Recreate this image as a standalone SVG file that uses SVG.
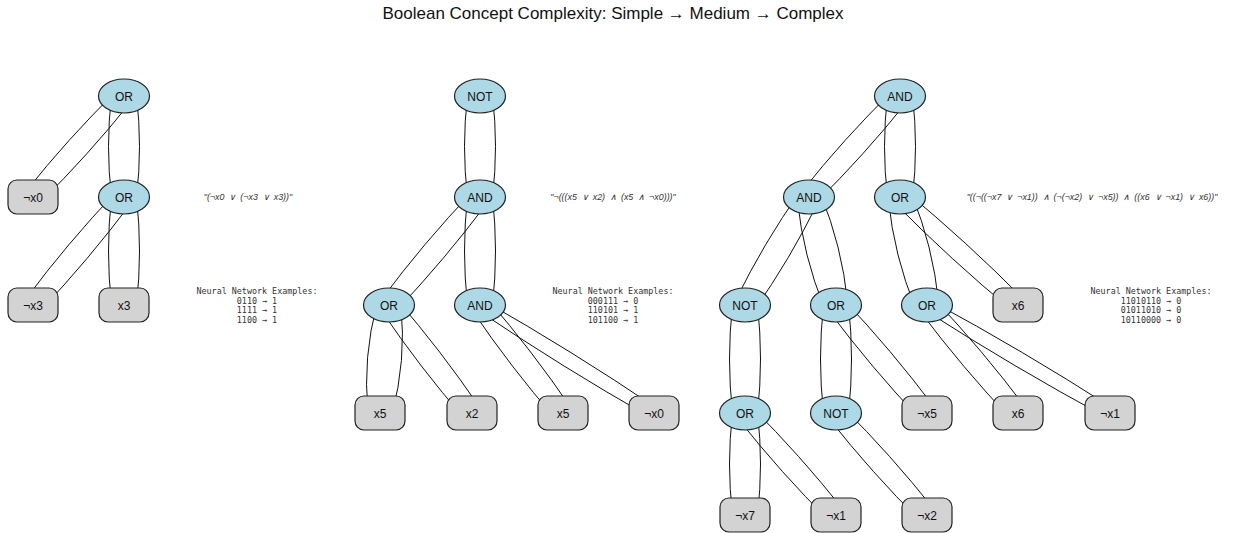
<svg xmlns="http://www.w3.org/2000/svg" width="1238" height="533" viewBox="0 0 1238 533">
<style>
.e{fill:none;stroke:#111;stroke-width:1}
.op ellipse{fill:#add8e6;stroke:#222;stroke-width:1.2}
.lf rect{fill:#d3d3d3;stroke:#222;stroke-width:1.2}
.lb{font-family:"Liberation Sans",Arial,sans-serif;font-size:12px;fill:#111;text-anchor:middle}
.fm{font-family:"Liberation Sans",Arial,sans-serif;font-size:8.9px;font-style:italic;fill:#333;text-anchor:middle;white-space:pre}
.nn{font-family:"DejaVu Sans Mono","Liberation Mono",monospace;font-size:8.4px;fill:#333;text-anchor:middle}
.tt{font-family:"Liberation Sans",Arial,sans-serif;font-size:17px;fill:#111;text-anchor:middle}
</style>
<rect width="1238" height="533" fill="#fff"/>
<text class="tt" x="613" y="19">Boolean Concept Complexity: Simple → Medium → Complex</text>
<g id="connectors">
<path class="e" d="M130.7,102 Q88.2,155.2 39.7,203"/>
<path class="e" d="M117.3,90 Q66.8,139.8 26.3,191"/>
<path class="e" d="M136.5,96 Q142.5,146.5 136.5,197"/>
<path class="e" d="M111.5,96 Q105.5,146.5 111.5,197"/>
<path class="e" d="M131.1,203 Q88.7,259.6 40.1,311"/>
<path class="e" d="M116.9,191 Q66.3,244.4 25.9,299"/>
<path class="e" d="M136.5,197 Q142.5,251 136.5,305"/>
<path class="e" d="M111.5,197 Q105.5,251 111.5,305"/>
<path class="e" d="M492.5,96 Q498.5,146.5 492.5,197"/>
<path class="e" d="M467.5,96 Q461.5,146.5 467.5,197"/>
<path class="e" d="M487.1,203 Q444.7,259.6 396.1,311"/>
<path class="e" d="M472.9,191 Q422.3,244.4 381.9,299"/>
<path class="e" d="M492.5,197 Q498.5,251 492.5,305"/>
<path class="e" d="M467.5,197 Q461.5,251 467.5,305"/>
<path class="e" d="M401,306 Q406.4,360.8 392,414"/>
<path class="e" d="M377,304 Q362.6,357.2 368,412"/>
<path class="e" d="M396.5,299.2 Q441.2,350.8 479.5,407.2"/>
<path class="e" d="M381.5,310.8 Q419.8,367.2 464.5,418.8"/>
<path class="e" d="M487.5,299.2 Q532.2,350.8 570.5,407.2"/>
<path class="e" d="M472.5,310.8 Q510.8,367.2 555.5,418.8"/>
<path class="e" d="M482.9,300.3 Q572,350.9 656.9,408.3"/>
<path class="e" d="M477.1,309.7 Q562,367.1 651.1,417.7"/>
<path class="e" d="M906.7,102 Q864.2,155.2 815.7,203"/>
<path class="e" d="M893.3,90 Q842.8,139.8 802.3,191"/>
<path class="e" d="M912.5,96 Q918.5,146.5 912.5,197"/>
<path class="e" d="M887.5,96 Q881.5,146.5 887.5,197"/>
<path class="e" d="M818,202.4 Q790.3,258.9 754,310.4"/>
<path class="e" d="M800,191.6 Q763.7,243.1 736,299.6"/>
<path class="e" d="M820.6,194.1 Q841.9,246.1 847.6,302.1"/>
<path class="e" d="M797.4,199.9 Q803.1,255.9 824.4,307.9"/>
<path class="e" d="M911.6,194.1 Q932.9,246.1 938.6,302.1"/>
<path class="e" d="M888.4,199.9 Q894.1,255.9 915.4,307.9"/>
<path class="e" d="M905.4,191.1 Q967.1,242.2 1023.4,299.1"/>
<path class="e" d="M894.6,202.9 Q950.9,259.9 1012.6,310.9"/>
<path class="e" d="M757.5,305 Q763.5,359 757.5,413"/>
<path class="e" d="M732.5,305 Q726.5,359 732.5,413"/>
<path class="e" d="M848.5,305 Q854.5,359 848.5,413"/>
<path class="e" d="M823.5,305 Q817.5,359 823.5,413"/>
<path class="e" d="M843.1,299 Q891.7,350.4 934.1,407"/>
<path class="e" d="M828.9,311 Q871.3,367.6 919.9,419"/>
<path class="e" d="M934.1,299 Q982.7,350.4 1025.1,407"/>
<path class="e" d="M919.9,311 Q962.3,367.6 1010.9,419"/>
<path class="e" d="M929.8,300.3 Q1023.3,350.8 1112.8,408.3"/>
<path class="e" d="M924.2,309.7 Q1013.7,367.2 1107.2,417.7"/>
<path class="e" d="M757.5,413 Q763.5,464 757.5,515"/>
<path class="e" d="M732.5,413 Q726.5,464 732.5,515"/>
<path class="e" d="M751.7,407 Q800.2,455.3 842.7,509"/>
<path class="e" d="M738.3,419 Q780.8,472.7 829.3,521"/>
<path class="e" d="M842.7,407 Q891.2,455.3 933.7,509"/>
<path class="e" d="M829.3,419 Q871.8,472.7 920.3,521"/>
</g>
<g id="t1-or1" class="op"><ellipse cx="124" cy="96" rx="25.5" ry="17"/><text class="lb" x="124" y="100.5">OR</text></g>
<g id="t1-nx0" class="lf"><rect x="8" y="180" width="50" height="34" rx="9"/><text class="lb" x="33" y="201.5">¬x0</text></g>
<g id="t1-or2" class="op"><ellipse cx="124" cy="197" rx="25.5" ry="17"/><text class="lb" x="124" y="201.5">OR</text></g>
<g id="t1-nx3" class="lf"><rect x="8" y="288" width="50" height="34" rx="9"/><text class="lb" x="33" y="309.5">¬x3</text></g>
<g id="t1-x3" class="lf"><rect x="99" y="288" width="50" height="34" rx="9"/><text class="lb" x="124" y="309.5">x3</text></g>
<g id="t2-not" class="op"><ellipse cx="480" cy="96" rx="25.5" ry="17"/><text class="lb" x="480" y="100.5">NOT</text></g>
<g id="t2-and1" class="op"><ellipse cx="480" cy="197" rx="25.5" ry="17"/><text class="lb" x="480" y="201.5">AND</text></g>
<g id="t2-or" class="op"><ellipse cx="389" cy="305" rx="25.5" ry="17"/><text class="lb" x="389" y="309.5">OR</text></g>
<g id="t2-and2" class="op"><ellipse cx="480" cy="305" rx="25.5" ry="17"/><text class="lb" x="480" y="309.5">AND</text></g>
<g id="t2-x5a" class="lf"><rect x="355" y="396" width="50" height="34" rx="9"/><text class="lb" x="380" y="417.5">x5</text></g>
<g id="t2-x2" class="lf"><rect x="447" y="396" width="50" height="34" rx="9"/><text class="lb" x="472" y="417.5">x2</text></g>
<g id="t2-x5b" class="lf"><rect x="538" y="396" width="50" height="34" rx="9"/><text class="lb" x="563" y="417.5">x5</text></g>
<g id="t2-nx0" class="lf"><rect x="629" y="396" width="50" height="34" rx="9"/><text class="lb" x="654" y="417.5">¬x0</text></g>
<g id="t3-and1" class="op"><ellipse cx="900" cy="96" rx="25.5" ry="17"/><text class="lb" x="900" y="100.5">AND</text></g>
<g id="t3-and2" class="op"><ellipse cx="809" cy="197" rx="25.5" ry="17"/><text class="lb" x="809" y="201.5">AND</text></g>
<g id="t3-or1" class="op"><ellipse cx="900" cy="197" rx="25.5" ry="17"/><text class="lb" x="900" y="201.5">OR</text></g>
<g id="t3-not1" class="op"><ellipse cx="745" cy="305" rx="25.5" ry="17"/><text class="lb" x="745" y="309.5">NOT</text></g>
<g id="t3-or2" class="op"><ellipse cx="836" cy="305" rx="25.5" ry="17"/><text class="lb" x="836" y="309.5">OR</text></g>
<g id="t3-or3" class="op"><ellipse cx="927" cy="305" rx="25.5" ry="17"/><text class="lb" x="927" y="309.5">OR</text></g>
<g id="t3-x6a" class="lf"><rect x="993" y="288" width="50" height="34" rx="9"/><text class="lb" x="1018" y="309.5">x6</text></g>
<g id="t3-or4" class="op"><ellipse cx="745" cy="413" rx="25.5" ry="17"/><text class="lb" x="745" y="417.5">OR</text></g>
<g id="t3-not2" class="op"><ellipse cx="836" cy="413" rx="25.5" ry="17"/><text class="lb" x="836" y="417.5">NOT</text></g>
<g id="t3-nx5" class="lf"><rect x="902" y="396" width="50" height="34" rx="9"/><text class="lb" x="927" y="417.5">¬x5</text></g>
<g id="t3-x6b" class="lf"><rect x="993" y="396" width="50" height="34" rx="9"/><text class="lb" x="1018" y="417.5">x6</text></g>
<g id="t3-nx1a" class="lf"><rect x="1085" y="396" width="50" height="34" rx="9"/><text class="lb" x="1110" y="417.5">¬x1</text></g>
<g id="t3-nx7" class="lf"><rect x="720" y="498" width="50" height="34" rx="9"/><text class="lb" x="745" y="519.5">¬x7</text></g>
<g id="t3-nx1b" class="lf"><rect x="811" y="498" width="50" height="34" rx="9"/><text class="lb" x="836" y="519.5">¬x1</text></g>
<g id="t3-nx2" class="lf"><rect x="902" y="498" width="50" height="34" rx="9"/><text class="lb" x="927" y="519.5">¬x2</text></g>
<g id="formulas">
<text class="fm" x="248" y="200">"(¬x0  ∨  (¬x3  ∨  x3))"</text>
<text class="fm" x="613" y="200">"¬(((x5  ∨  x2)  ∧  (x5  ∧  ¬x0)))"</text>
<text class="fm" x="1092" y="200">"((¬((¬x7  ∨  ¬x1))  ∧  (¬(¬x2)  ∨  ¬x5))  ∧  ((x6  ∨  ¬x1)  ∨  x6))"</text>
</g>
<g id="examples">
<text class="nn" x="257" y="294"><tspan x="257">Neural Network Examples:</tspan><tspan x="257" dy="9.7">0110 → 1</tspan><tspan x="257" dy="9.7">1111 → 1</tspan><tspan x="257" dy="9.7">1100 → 1</tspan></text>
<text class="nn" x="613" y="294"><tspan x="613">Neural Network Examples:</tspan><tspan x="613" dy="9.7">000111 → 0</tspan><tspan x="613" dy="9.7">110101 → 1</tspan><tspan x="613" dy="9.7">101100 → 1</tspan></text>
<text class="nn" x="1151" y="294"><tspan x="1151">Neural Network Examples:</tspan><tspan x="1151" dy="9.7">11010110 → 0</tspan><tspan x="1151" dy="9.7">01011010 → 0</tspan><tspan x="1151" dy="9.7">10110000 → 0</tspan></text>
</g>
</svg>
